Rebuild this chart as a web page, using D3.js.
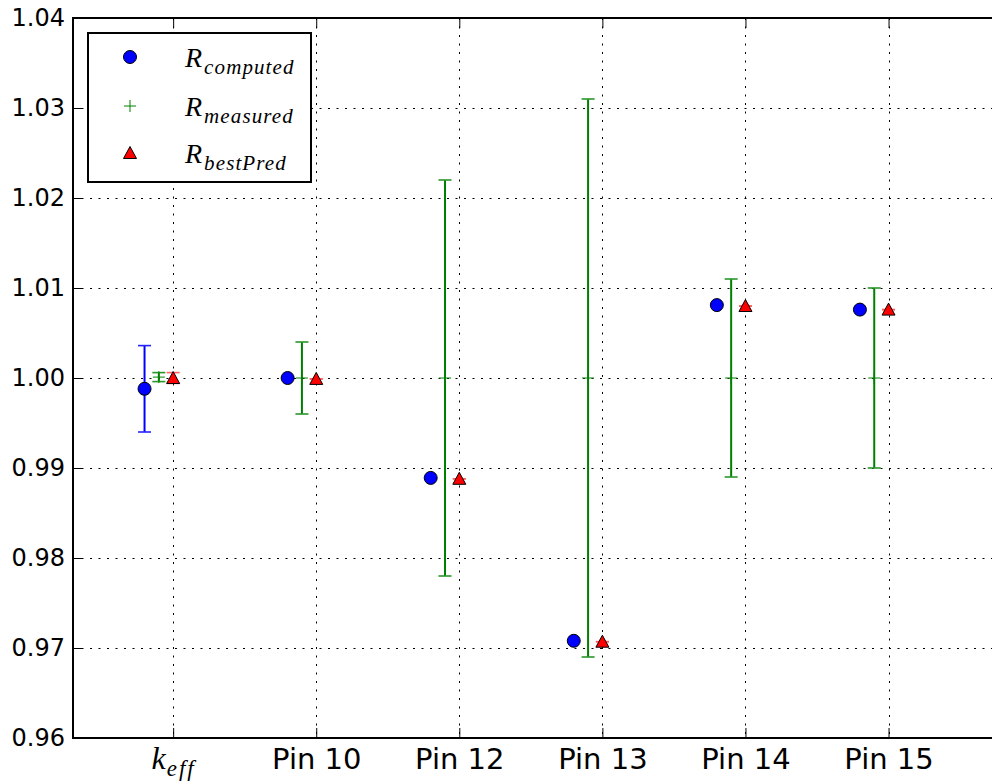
<!DOCTYPE html>
<html>
<head>
<meta charset="utf-8">
<script src="https://cdn.jsdelivr.net/npm/d3@7"></script>
<style>
	body { margin: 0; background: #fff; }
	svg { display: block; }
</style>
</head>
<body>
<script>
'use strict';

// categories along the x axis (first one is drawn as k_eff)
const categories = ["keff", "Pin 10", "Pin 12", "Pin 13", "Pin 14", "Pin 15"];

// R_computed (blue circles), only k_eff has an error bar
const computed = [0.9988, 1.0000, 0.9889, 0.9708, 1.0081, 1.0076];
const computedErr = [0.0048, null, null, null, null, null];

// R_measured (green plus, with error bars)
const measured = [1.0001, 1.0000, 1.0000, 1.0000, 1.0000, 1.0000];
const measuredErr = [0.0005, 0.0040, 0.0220, 0.0310, 0.0110, 0.0100];

// R_bestPred (red triangles)
const bestPred = [1.0000, 0.9999, 0.9888, 0.9707, 1.0080, 1.0076];
const bestPredErr = [0.0006, 0.0000, 0.0000, 0.0000, 0.0000, 0.0000];

const yTicks = [0.96, 0.97, 0.98, 0.99, 1.00, 1.01, 1.02, 1.03, 1.04];

const params = {
	width: 992,
	height: 783,
	left: 73,
	top: 18,
	right: 1003,
	bottom: 738
};

const svg = d3.select("body")
	.append("svg")
	.attr("width", params.width)
	.attr("height", params.height)

const xScale = d3.scaleLinear()
	.domain([-0.7, 5.8])
	.range([params.left, params.right])

const yScale = d3.scaleLinear()
	.domain([0.96, 1.04])
	.range([params.bottom, params.top])

const idx = categories.map((d, i) => i);

// grid
const grid = svg.append("g")
	.attr("stroke", "#000")
	.attr("stroke-width", 1)
	.attr("stroke-dasharray", "2,6.5")
grid.selectAll(".gx")
	.data(idx)
	.join("line")
	.attr("x1", d => Math.round(xScale(d)) + 0.5)
	.attr("x2", d => Math.round(xScale(d)) + 0.5)
	.attr("y1", params.top)
	.attr("y2", params.bottom)
grid.selectAll(".gy")
	.data(yTicks.slice(1, -1))
	.join("line")
	.attr("x1", params.left)
	.attr("x2", params.right)
	.attr("y1", d => Math.round(yScale(d)) + 0.5)
	.attr("y2", d => Math.round(yScale(d)) + 0.5)

// axes, ticks pointing inward
const yAxis = svg.append("g")
	.attr("transform", `translate(${params.left}, 0)`)
	.call(d3.axisLeft(yScale)
		.tickValues(yTicks)
		.tickFormat(d3.format(".2f"))
		.tickSize(-10)
		.tickPadding(8))
yAxis.select(".domain").remove()
yAxis.selectAll("text")
	.attr("font-family", "DejaVu Sans")
	.attr("font-size", 24)
	.attr("fill", "#000")

const xAxis = svg.append("g")
	.attr("transform", `translate(0, ${params.bottom})`)
	.call(d3.axisBottom(xScale)
		.tickValues(idx)
		.tickFormat(i => categories[i])
		.tickSize(-10)
		.tickPadding(10))
xAxis.select(".domain").remove()
xAxis.selectAll("text")
	.attr("font-family", "DejaVu Sans")
	.attr("font-size", 29)
	.attr("fill", "#000")

// k_eff as math text
xAxis.selectAll(".tick").filter(i => i === 0).select("text")
	.text("")
	.attr("font-family", "Liberation Serif")
	.attr("font-style", "italic")
	.call(t => {
		t.append("tspan").attr("font-size", 32).text("k")
		t.append("tspan").attr("font-size", 23).attr("dy", 7).attr("dx", 1)
			.attr("letter-spacing", 2).text("eff")
	})

svg.append("g")
	.attr("transform", `translate(0, ${params.top})`)
	.call(d3.axisTop(xScale).tickValues(idx).tickFormat("").tickSize(-10))
	.select(".domain").remove()

// frame (right side is off the picture)
svg.append("path")
	.attr("d", `M${params.right},${params.top}H${params.left}V${params.bottom}H${params.right}`)
	.attr("fill", "none")
	.attr("stroke", "#000")
	.attr("stroke-width", 2)

// error bars
const drawErr = (vals, errs, offset, color, capColor, width) => {
	const g = svg.append("g")
	const rows = idx.filter(i => errs[i] !== null)
	g.selectAll(".bar")
		.data(rows)
		.join("line")
		.attr("x1", i => xScale(i + offset))
		.attr("x2", i => xScale(i + offset))
		.attr("y1", i => yScale(vals[i] - errs[i]))
		.attr("y2", i => yScale(vals[i] + errs[i]))
		.attr("stroke", color)
		.attr("stroke-width", width)
	rows.forEach(i => {
		[vals[i] - errs[i], vals[i] + errs[i]].forEach(v => {
			g.append("line")
				.attr("x1", xScale(i + offset) - 6.5)
				.attr("x2", xScale(i + offset) + 6.5)
				.attr("y1", yScale(v))
				.attr("y2", yScale(v))
				.attr("stroke", capColor)
				.attr("stroke-width", 1.6)
		})
	})
}

drawErr(computed, computedErr, -0.2, "#0000ff", "#2222ff", 2)
drawErr(measured, measuredErr, -0.1, "#008000", "#2a962a", 2)
drawErr(bestPred, bestPredErr, 0, "#ff0000", "#ff6060", 1.5)

// markers
svg.append("g")
	.selectAll("circle")
	.data(idx)
	.join("circle")
	.attr("cx", i => xScale(i - 0.2))
	.attr("cy", i => yScale(computed[i]))
	.attr("r", 6.5)
	.attr("fill", "#0000ff")
	.attr("stroke", "#000")
	.attr("stroke-width", 1)

svg.append("g")
	.selectAll("path")
	.data(idx)
	.join("path")
	.attr("d", i => {
		const x = xScale(i - 0.1), y = yScale(measured[i])
		return `M${x - 6},${y}H${x + 6}M${x},${y - 6}V${y + 6}`
	})
	.attr("stroke", "#008000")
	.attr("stroke-width", 1)

const triPath = (x, y) => `M${x},${y - 6.5}L${x + 6.5},${y + 5.5}L${x - 6.5},${y + 5.5}Z`

svg.append("g")
	.selectAll("path")
	.data(idx)
	.join("path")
	.attr("d", i => triPath(xScale(i), yScale(bestPred[i])))
	.attr("fill", "#ff0000")
	.attr("stroke", "#000")
	.attr("stroke-width", 1)

// legend
const legend = svg.append("g")
legend.append("rect")
	.attr("x", 88)
	.attr("y", 33)
	.attr("width", 223)
	.attr("height", 149)
	.attr("fill", "#fff")
	.attr("stroke", "#000")
	.attr("stroke-width", 2)

const legendItems = [
	{ sub: "computed", y: 57 },
	{ sub: "measured", y: 106 },
	{ sub: "bestPred", y: 153 }
]

legend.append("circle")
	.attr("cx", 130).attr("cy", legendItems[0].y).attr("r", 6.5)
	.attr("fill", "#0000ff").attr("stroke", "#000")
legend.append("path")
	.attr("d", `M124,${legendItems[1].y}H136M130,${legendItems[1].y - 6}V${legendItems[1].y + 6}`)
	.attr("stroke", "#008000")
legend.append("path")
	.attr("d", triPath(130, legendItems[2].y))
	.attr("fill", "#ff0000").attr("stroke", "#000")

legendItems.forEach(d => {
	const t = legend.append("text")
		.attr("x", 185)
		.attr("y", d.y + 10)
		.attr("font-family", "Liberation Serif")
		.attr("font-style", "italic")
		.attr("fill", "#000")
	t.append("tspan").attr("font-size", 28).text("R")
	t.append("tspan").attr("font-size", 21).attr("dy", 7).attr("dx", 2)
		.attr("letter-spacing", 1.1).text(d.sub)
})
</script>
</body>
</html>
